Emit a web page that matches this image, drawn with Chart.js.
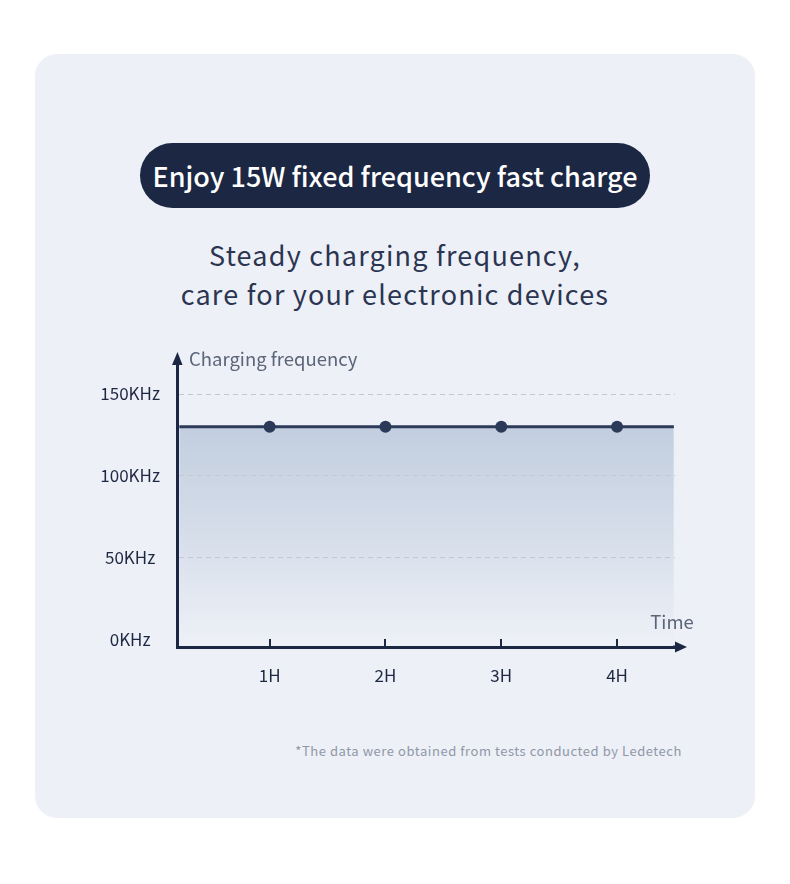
<!DOCTYPE html>
<html>
<head>
<meta charset="utf-8">
<script src="https://cdn.jsdelivr.net/npm/chart.js@4/dist/chart.umd.min.js"></script>
<style>
    html, body { margin: 0; padding: 0; background: #ffffff; }
    body { width: 790px; height: 884px; position: relative; overflow: hidden; font-family: "Noto Sans CJK SC", "Noto Sans", sans-serif; }
    .card { position: absolute; left: 35px; top: 54px; width: 720px; height: 764px; border-radius: 22px; background: #edf0f7; }
    .pill { position: absolute; left: 140px; top: 143px; width: 510px; height: 65px; border-radius: 33px; background: #1c2744;
            color: #ffffff; font-size: 27px; font-weight: 500; line-height: 65px; text-align: center; }
    .sub { position: absolute; left: 0; width: 790px; top: 235px; text-align: center; color: #2b3551;
           font-size: 27px; line-height: 39px; letter-spacing: 1.2px; }
    .note { position: absolute; right: 108px; top: 741px; color: #9097a6; font-size: 13px; letter-spacing: 0.55px; line-height: 20px; }
    #chart { position: absolute; left: 0; top: 0; }
</style>
</head>
<body>
<div class="card"></div>
<div class="pill">Enjoy 15W fixed frequency fast charge</div>
<div class="sub">Steady charging frequency,<br>care for your electronic devices</div>
<div class="note">*The data were obtained from tests conducted by Ledetech</div>
<canvas id="chart" width="790" height="884"></canvas>
<script>
// 数据
const hours = [1, 2, 3, 4];
const times = [0.22, 1, 2, 3, 4, 4.49];
const frequency = [130, 130, 130, 130, 130, 130];
const yTicks = [0, 50, 100, 150];

const axisColor = '#1c2744';
const fontFamily = '"Noto Sans CJK SC", "Noto Sans", sans-serif';

// 坐标轴箭头、刻度和轴标题
const axisExtras = {
    id: 'axisExtras',
    afterDraw(chart) {
        const ctx = chart.ctx;
        const area = chart.chartArea;
        const xScale = chart.scales.x;
        ctx.save();
        ctx.fillStyle = axisColor;
        ctx.strokeStyle = axisColor;

        // y 轴箭头
        ctx.beginPath();
        ctx.moveTo(area.left - 5, area.top);
        ctx.lineTo(area.left + 0.5, area.top - 13);
        ctx.lineTo(area.left + 5.5, area.top);
        ctx.closePath();
        ctx.fill();

        // x 轴延长和箭头
        ctx.lineWidth = 3;
        ctx.beginPath();
        ctx.moveTo(area.right - 2, area.bottom);
        ctx.lineTo(area.right + 2, area.bottom);
        ctx.stroke();
        ctx.beginPath();
        ctx.moveTo(area.right, area.bottom - 5.5);
        ctx.lineTo(area.right + 12, area.bottom);
        ctx.lineTo(area.right, area.bottom + 5.5);
        ctx.closePath();
        ctx.fill();

        // x 轴刻度
        ctx.lineWidth = 2;
        hours.forEach(h => {
            const px = Math.round(xScale.getPixelForValue(h));
            ctx.beginPath();
            ctx.moveTo(px, area.bottom);
            ctx.lineTo(px, area.bottom - 8);
            ctx.stroke();
        });

        // 轴标题
        ctx.fillStyle = '#5b6478';
        ctx.font = '18.5px ' + fontFamily;
        ctx.textBaseline = 'middle';
        ctx.textAlign = 'left';
        ctx.fillText('Charging frequency', area.left + 12, area.top - 6);
        ctx.textAlign = 'center';
        ctx.fillText('Time', area.right - 3, area.bottom - 25);
        ctx.restore();
    }
};

new Chart(document.getElementById('chart'), {
    type: 'line',
    data: {
        datasets: [{
            data: times.map((t, i) => ({ x: t, y: frequency[i] })),
            borderColor: '#2c3a5a',
            borderWidth: 3,
            pointRadius: times.map(t => hours.includes(t) ? 6 : 0),
            pointBackgroundColor: '#2c3a5a',
            pointBorderWidth: 0,
            tension: 0,
            fill: 'start',
            backgroundColor: function(context) {
                const chart = context.chart;
                const area = chart.chartArea;
                if (!area) return 'rgba(195, 207, 224, 1)';
                const top = chart.scales.y.getPixelForValue(130);
                const g = chart.ctx.createLinearGradient(0, top, 0, area.bottom);
                g.addColorStop(0, 'rgba(194, 206, 223, 1)');
                g.addColorStop(0.5, 'rgba(214, 222, 234, 1)');
                g.addColorStop(1, 'rgba(238, 241, 247, 1)');
                return g;
            }
        }]
    },
    options: {
        responsive: false,
        animation: false,
        layout: { padding: { left: 80, right: 115, top: 365, bottom: 197 } },
        plugins: { legend: { display: false }, tooltip: { enabled: false } },
        scales: {
            x: {
                type: 'linear',
                min: 0.2,
                max: 4.5,
                afterBuildTicks: scale => { scale.ticks = hours.map(v => ({ value: v })); },
                afterFit: scale => { scale.height = 40; },
                grid: { display: false },
                border: { display: true, color: axisColor, width: 3, z: 2 },
                ticks: {
                    padding: 10,
                    color: '#1e2842',
                    font: { family: fontFamily, size: 17 },
                    callback: v => v + 'H'
                }
            },
            y: {
                min: -4.3,
                max: 167.7,
                afterBuildTicks: scale => { scale.ticks = yTicks.map(v => ({ value: v })); },
                afterFit: scale => { scale.width = 97; },
                grid: {
                    z: 1,
                    drawTicks: false,
                    color: ctx => ctx.tick && ctx.tick.value === 0 ? 'rgba(0,0,0,0)' : '#c3c8d2',
                    lineWidth: 1
                },
                border: { display: true, color: axisColor, width: 3, dash: [5, 4], z: 2 },
                ticks: {
                    padding: 17,
                    crossAlign: 'center',
                    color: '#1e2842',
                    font: { family: fontFamily, size: 17 },
                    callback: v => v + 'KHz'
                }
            }
        }
    },
    plugins: [axisExtras]
});
</script>
</body>
</html>
